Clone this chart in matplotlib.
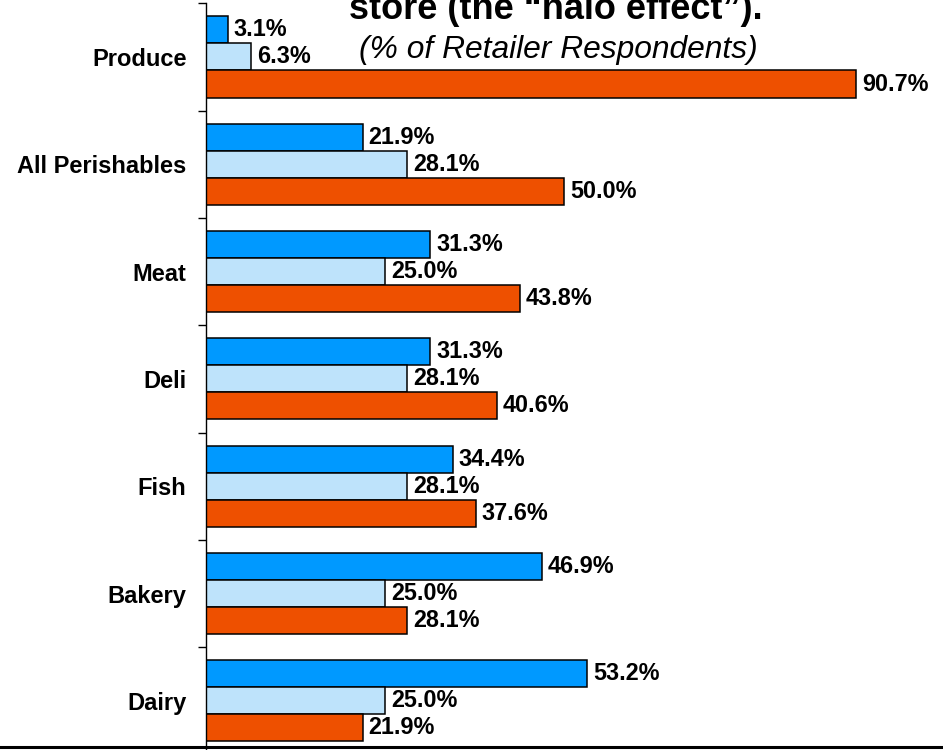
import numpy as np
import matplotlib
matplotlib.use('Agg')
import matplotlib.pyplot as plt
from matplotlib.lines import Line2D

plt.rcParams['font.family'] = ['Liberation Sans', 'DejaVu Sans']

categories = ['Produce', 'All Perishables', 'Meat', 'Deli', 'Fish', 'Bakery', 'Dairy']
series_a = [3.1, 21.9, 31.3, 31.3, 34.4, 46.9, 53.2]
series_b = [6.3, 28.1, 25.0, 28.1, 28.1, 25.0, 25.0]
series_c = [90.7, 50.0, 43.8, 40.6, 37.6, 28.1, 21.9]

COLORS = ['#0099FF', '#BEE3FB', '#EE5000']

fig = plt.figure(figsize=(9.43, 7.5), dpi=100)
ax = fig.add_axes([206 / 943, 1 - 754.5 / 750, 737 / 943, 751.2 / 750])

yy = np.arange(len(categories))
h = 0.252

for k, (vals, col) in enumerate(zip([series_a, series_b, series_c], COLORS)):
    bars = ax.barh(yy + (k - 1) * h, vals, height=h, color=col,
                   edgecolor='black', linewidth=1.1)
    ax.bar_label(bars, labels=['%.1f%%' % v for v in vals], padding=4,
                 fontsize=16.8, fontweight='bold')

ax.set_xlim(0, 102.8)
ax.set_ylim(len(categories) - 0.5, -0.5)

ax.set_yticks(yy)
ax.set_yticklabels(categories, fontsize=17, fontweight='bold')
ax.set_yticks(np.arange(len(categories) + 1) - 0.5, minor=True)
ax.tick_params(axis='y', which='major', length=0, pad=14)
ax.tick_params(axis='y', which='minor', length=6, width=1, direction='out')
ax.set_xticks([])

for s in ['top', 'right', 'bottom']:
    ax.spines[s].set_visible(False)
ax.spines['left'].set_linewidth(1)

# heavy rule across the bottom of the slide
fig.add_artist(Line2D([0, 1], [1 - 747 / 750, 1 - 747 / 750], color='black',
                      linewidth=2.2, transform=fig.transFigure))

fig.text(556 / 943, 1 - 19 / 750, 'store (the \u201chalo effect\u201d).',
         ha='center', va='baseline', fontsize=26, fontweight='bold')
fig.text(558 / 943, 1 - 58 / 750, '(% of Retailer Respondents)',
         ha='center', va='baseline', fontsize=22.9, style='italic')

fig.savefig('out.png', dpi=100)
